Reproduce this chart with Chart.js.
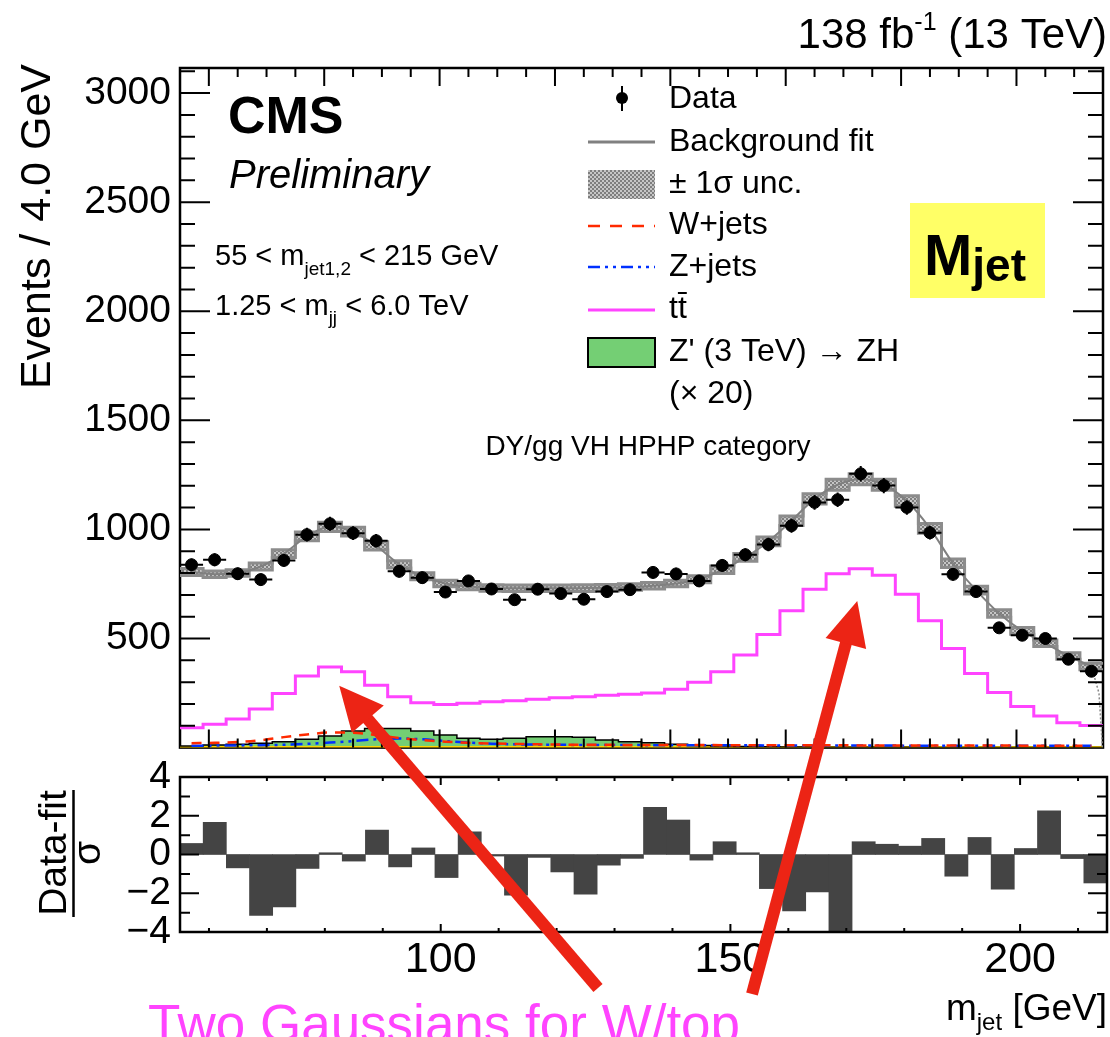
<!DOCTYPE html>
<html>
<head>
<meta charset="utf-8">
<title>m_jet fit – DY/gg VH HPHP</title>
<script src="https://cdn.jsdelivr.net/npm/chart.js@4.4.1/dist/chart.umd.min.js"></script>
<style>
  html, body { margin: 0; padding: 0; background: #fff; overflow: hidden; }
  #page { position: relative; width: 1110px; height: 1037px; }
  canvas { position: absolute; left: 0; }
  #main { top: 0; }
  #pull { top: 740px; }
  #overlay { top: 0; pointer-events: none; }
</style>
</head>
<body>
<div id="page">
  <canvas id="main" width="1110" height="780"></canvas>
  <canvas id="pull" width="1110" height="297"></canvas>
  <canvas id="overlay" width="1110" height="1037"></canvas>
</div>
<script>
// ---------------------------------------------------
// m_jet spectrum with background fit + pull panel
// ---------------------------------------------------

const FONT = "'Liberation Sans', Arial, Helvetica, sans-serif";

// 40 bins of 4 GeV between 55 and 215 GeV
const binLow = 55, binWidth = 4, nBins = 40;
const binEdges   = Array.from({ length: nBins + 1 }, (_, i) => binLow + i * binWidth);
const binCenters = binEdges.slice(0, -1).map(e => e + binWidth / 2);

// Observed events per bin
const dataCounts = [838, 861, 797, 770, 858, 976, 1026, 983, 948, 808,
                    779, 713, 764, 727, 678, 726, 706, 680, 715, 724,
                    803, 796, 764, 835, 884, 931, 1017, 1124, 1136, 1255,
                    1201, 1101, 985, 794, 715, 549, 515, 500, 405, 350];

// Background fit (value at bin centre) and its 1 sigma band
const fitValues = [805, 795, 800, 830, 889, 968, 1012, 990, 925, 840,
                   785, 752, 738, 732, 730, 730, 730, 731, 733, 736,
                   742, 752, 772, 815, 872, 945, 1040, 1140, 1205, 1230,
                   1205, 1130, 1005, 845, 722, 615, 535, 478, 420, 372];
const fitUnc = [16, 15, 15, 16, 18, 20, 21, 20, 19, 17,
                16, 15, 15, 15, 15, 15, 15, 15, 15, 15,
                15, 15, 16, 17, 18, 20, 22, 24, 25, 25,
                25, 24, 22, 20, 18, 17, 16, 15, 15, 15];
// steep drop of the fit function at the upper edge
const fitTailX = [213, 214.3, 214.9];
const fitTailY = [372, 250, 0];

// Background components
const ttbarValues = [91, 107, 131, 177, 248, 328, 370, 348, 286, 233,
                     206, 198, 203, 210, 215, 222, 229, 233, 240, 245,
                     250, 268, 299, 348, 424, 518, 627, 726, 797, 820,
                     790, 703, 581, 454, 340, 252, 188, 145, 114, 101];
const wjetsValues = [20, 22, 26, 34, 48, 60, 69, 68, 58, 44,
                     34, 27, 22, 19, 17, 15, 14, 13, 13, 12,
                     12, 12, 12, 11, 11, 11, 11, 11, 11, 10,
                     10, 10, 10, 10, 10, 10, 9, 9, 9, 9];
const zjetsValues = [8, 9, 10, 11, 13, 17, 23, 30, 38, 42,
                     38, 30, 23, 18, 15, 14, 13, 12, 12, 12,
                     11, 11, 11, 11, 11, 10, 10, 10, 10, 10,
                     10, 9, 9, 9, 9, 9, 8, 8, 8, 8];

// Z' (3 TeV) -> ZH signal, scaled x20
const signalValues = [7, 12, 15, 20, 27, 38, 53, 76, 88, 88,
                      76, 58, 43, 38, 43, 50, 50, 47, 35, 27,
                      22, 15, 10, 7, 5, 4, 3, 3, 2, 2,
                      2, 2, 1, 1, 1, 1, 1, 1, 1, 1];
const baselineX = [55, 215];
const baselineY = [0, 0];

// (Data - fit) / sigma per bin
const pullValues = [0.57, 1.66, -0.69, -3.14, -2.71, -0.72, 0.09, -0.34, 1.26, -0.64,
                    0.34, -1.19, 1.17, -0.08, -2.1, -0.15, -0.9, -2.05, -0.55, -0.2,
                    2.43, 1.78, -0.29, 0.66, 0.09, -1.76, -2.91, -1.93, -4.6, 0.66,
                    0.53, 0.43, 0.83, -1.12, 0.88, -1.79, 0.31, 2.26, -0.21, -1.47];

// Axis ticks
const mainYMajor = [500, 1000, 1500, 2000, 2500, 3000];
const mainXMajor = [60, 80, 100, 120, 140, 160, 180, 200];
const pullYMajor = [-4, -2, 0, 2, 4];
const pullYMinor = [-3, -1, 1, 3];
const pullXLabels = [100, 150, 200];

// Arrow tips in (m_jet, events) of the upper panel, tails in page pixels
const arrowTips  = [[82.6, 284], [172.4, 672]];
const arrowTails = [[598, 988], [752, 994]];

// Builds histogram outline points (flat top per bin).
function stepPoints(values) {
  const pts = [];
  values.forEach((v, i) => {
    pts.push({ x: binEdges[i], y: v }, { x: binEdges[i + 1], y: v });
  });
  return pts;
}

function range(from, to, step) {
  const out = [];
  for (let v = from; v <= to + 1e-9; v += step) out.push(v);
  return out;
}

// Grey speckle fill used for the uncertainty band.
function speckle(ctx) {
  const c = document.createElement('canvas');
  c.width = c.height = 4;
  const p = c.getContext('2d');
  p.fillStyle = '#c6c6c6'; p.fillRect(0, 0, 4, 4);
  p.fillStyle = '#7e7e7e'; p.fillRect(0, 0, 2, 2); p.fillRect(2, 2, 2, 2);
  return ctx.createPattern(c, 'repeat');
}

// Frame and inward pointing ticks (ROOT style).
function frameTicks(cfg) {
  const frame = chart => {
    const { ctx, chartArea: a } = chart;
    ctx.save();
    ctx.strokeStyle = '#000';
    ctx.lineWidth = 2.5;
    ctx.strokeRect(a.left, a.top, a.right - a.left, a.bottom - a.top);
    ctx.restore();
  };
  return {
    id: 'frameTicks',
    beforeDatasetsDraw(chart) { if (cfg.frameFirst) frame(chart); },
    afterDraw(chart) {
      if (!cfg.frameFirst) frame(chart);
      const { ctx, chartArea: a, scales: { x, y } } = chart;
      ctx.save();
      ctx.strokeStyle = '#000';
      ctx.lineWidth = 2;
      ctx.beginPath();
      const xt = (v, len) => {
        const p = x.getPixelForValue(v);
        ctx.moveTo(p, a.top);    ctx.lineTo(p, a.top + len);
        ctx.moveTo(p, a.bottom); ctx.lineTo(p, a.bottom - len);
      };
      const yt = (v, len) => {
        const p = y.getPixelForValue(v);
        ctx.moveTo(a.left, p);  ctx.lineTo(a.left + len, p);
        ctx.moveTo(a.right, p); ctx.lineTo(a.right - len, p);
      };
      cfg.xMinor.forEach(v => xt(v, cfg.xMinorLen));
      cfg.xMajor.forEach(v => xt(v, cfg.xMajorLen));
      cfg.yMinor.forEach(v => yt(v, cfg.yMinorLen));
      cfg.yMajor.forEach(v => yt(v, cfg.yMajorLen));
      ctx.stroke();
      ctx.restore();
    }
  };
}

// Horizontal (bin width) and vertical (sqrt N) error bars on data.
const errorBars = {
  id: 'errorBars',
  afterDatasetsDraw(chart) {
    const { ctx, scales: { x, y } } = chart;
    ctx.save();
    ctx.strokeStyle = '#000';
    ctx.lineWidth = 2;
    ctx.beginPath();
    dataCounts.forEach((n, i) => {
      const py = y.getPixelForValue(n);
      const pc = x.getPixelForValue(binCenters[i]);
      ctx.moveTo(x.getPixelForValue(binEdges[i]), py);
      ctx.lineTo(x.getPixelForValue(binEdges[i + 1]), py);
      ctx.moveTo(pc, y.getPixelForValue(n - Math.sqrt(n)));
      ctx.lineTo(pc, y.getPixelForValue(n + Math.sqrt(n)));
    });
    ctx.stroke();
    ctx.restore();
  }
};

Chart.defaults.color = '#000';
Chart.defaults.font.family = FONT;

const mainCtx = document.getElementById('main').getContext('2d');
const bandFill = speckle(mainCtx);

const mainChart = new Chart(mainCtx, {
  type: 'line',
  data: {
    datasets: [
      {
        label: 'Data',
        data: binCenters.map((x, i) => ({ x, y: dataCounts[i] })),
        showLine: false,
        pointRadius: 6,
        pointBackgroundColor: '#000',
        pointBorderColor: '#000',
        borderColor: '#000'
      },
      {
        label: 'fit tail',
        data: fitTailX.map((x, i) => ({ x, y: fitTailY[i] })),
        borderColor: '#8a8a8a',
        borderWidth: 1.5,
        borderDash: [2, 2]
      },
      {
        label: 'Background fit',
        data: binCenters.map((x, i) => ({ x, y: fitValues[i] })),
        borderColor: '#808080',
        borderWidth: 2,
        cubicInterpolationMode: 'monotone'
      },
      {
        label: 'unc up',
        data: stepPoints(fitValues.map((v, i) => v + fitUnc[i])),
        borderColor: '#8c8c8c',
        borderWidth: 3,
        backgroundColor: bandFill,
        fill: '+1'
      },
      {
        label: 'unc down',
        data: stepPoints(fitValues.map((v, i) => v - fitUnc[i])),
        borderColor: '#8c8c8c',
        borderWidth: 3
      },
      {
        label: 'W+jets',
        data: binCenters.map((x, i) => ({ x, y: wjetsValues[i] })),
        borderColor: '#ff2a00',
        borderWidth: 2.5,
        borderDash: [10, 8],
        cubicInterpolationMode: 'monotone'
      },
      {
        label: 'Z+jets',
        data: binCenters.map((x, i) => ({ x, y: zjetsValues[i] })),
        borderColor: '#0030ff',
        borderWidth: 2.5,
        borderDash: [12, 5, 3, 5, 3, 5],
        cubicInterpolationMode: 'monotone'
      },
      {
        label: 'ttbar',
        data: stepPoints(ttbarValues),
        borderColor: '#ff44ff',
        borderWidth: 3
      },
      {
        label: 'signal',
        data: stepPoints(signalValues),
        borderColor: '#000',
        borderWidth: 1.5,
        backgroundColor: '#74cf74',
        fill: 'origin'
      },
      {
        label: 'baseline',
        data: baselineX.map((x, i) => ({ x, y: baselineY[i] })),
        borderColor: '#ffd400',
        borderWidth: 3
      }
    ]
  },
  options: {
    responsive: false,
    animation: false,
    events: [],
    layout: { padding: { left: 10, right: 3, top: 68, bottom: 31 } },
    elements: { point: { radius: 0 }, line: { tension: 0 } },
    plugins: {
      legend: { display: false },
      tooltip: { enabled: false },
      filler: { drawTime: 'beforeDatasetsDraw' }
    },
    scales: {
      x: { type: 'linear', min: 55, max: 215, display: false },
      y: {
        type: 'linear', min: 0, max: 3115,
        afterBuildTicks(s) { s.ticks = mainYMajor.map(v => ({ value: v })); },
        afterFit(s) { s.width = 170; },
        grid: { display: false, drawTicks: false },
        border: { display: false },
        ticks: {
          autoSkip: false, padding: 9,
          font: { size: 39 },
          callback: v => String(v)
        }
      }
    }
  },
  plugins: [
    frameTicks({
      frameFirst: true,
      xMajor: mainXMajor, xMinor: range(60, 210, 5), xMajorLen: 18, xMinorLen: 9,
      yMajor: mainYMajor, yMinor: range(100, 3100, 100), yMajorLen: 30, yMinorLen: 15
    }),
    errorBars
  ]
});

const pullChart = new Chart(document.getElementById('pull'), {
  type: 'bar',
  data: {
    datasets: [{
      label: 'pull',
      data: binCenters.map((x, i) => ({ x, y: pullValues[i] })),
      backgroundColor: '#444444',
      borderWidth: 0,
      categoryPercentage: 1,
      barPercentage: 1,
      clip: 0
    }]
  },
  options: {
    responsive: false,
    animation: false,
    events: [],
    layout: { padding: { left: 10, right: 3, top: 37, bottom: 45 } },
    plugins: { legend: { display: false }, tooltip: { enabled: false } },
    scales: {
      x: {
        type: 'linear', min: 55, max: 215, offset: false,
        afterBuildTicks(s) { s.ticks = pullXLabels.map(v => ({ value: v })); },
        afterFit(s) { s.height = 60; },
        grid: { display: false, drawTicks: false },
        border: { display: false },
        ticks: { autoSkip: false, maxRotation: 0, padding: 2, font: { size: 43 }, callback: v => String(v) }
      },
      y: {
        type: 'linear', min: -4, max: 4,
        afterBuildTicks(s) { s.ticks = pullYMajor.map(v => ({ value: v })); },
        afterFit(s) { s.width = 170; },
        grid: { display: false, drawTicks: false },
        border: { display: false },
        ticks: {
          autoSkip: false, padding: 9,
          font: { size: 39 },
          callback: v => (v < 0 ? '\u2212' + (-v) : String(v))
        }
      }
    }
  },
  plugins: [
    frameTicks({
      frameFirst: false,
      xMajor: pullXLabels, xMinor: range(60, 210, 10), xMajorLen: 8, xMinorLen: 4,
      yMajor: pullYMajor, yMinor: pullYMinor, yMajorLen: 19, yMinorLen: 10
    })
  ]
});

// ---------------------------------------------------
// Labels, legend and annotation arrows on top
// ---------------------------------------------------
const ov = document.getElementById('overlay').getContext('2d');

function text(s, x, y, font, align = 'left', color = '#000') {
  ov.font = font;
  ov.fillStyle = color;
  ov.textAlign = align;
  ov.textBaseline = 'alphabetic';
  ov.fillText(s, x, y);
  ov.textAlign = 'left';
  return ov.measureText(s).width;
}

function rotText(s, x, y, font, align) {
  ov.save();
  ov.translate(x, y);
  ov.rotate(-Math.PI / 2);
  ov.font = font;
  ov.fillStyle = '#000';
  ov.textAlign = align;
  ov.fillText(s, 0, 0);
  ov.restore();
}

function width(s, font) { ov.font = font; return ov.measureText(s).width; }

// luminosity / energy, right aligned on the frame
{
  const big = `42px ${FONT}`, sup = `25px ${FONT}`;
  const total = width('138 fb', big) + width('-1', sup) + width(' (13 TeV)', big);
  let x = 1107 - total;
  x += text('138 fb', x, 48, big);
  x += text('-1', x, 30, sup);
  text(' (13 TeV)', x, 48, big);
}

text('CMS', 228, 133, `bold 52px ${FONT}`);
text('Preliminary', 229, 188, `italic 40px ${FONT}`);

{
  const f = `29px ${FONT}`, s = `19px ${FONT}`;
  let x = 215;
  x += text('55 < m', x, 265, f);
  x += text('jet1,2', x, 275, s);
  text(' < 215 GeV', x, 265, f);
  x = 215;
  x += text('1.25 < m', x, 315, f);
  x += text('jj', x, 324, s);
  text(' < 6.0 TeV', x, 315, f);
}

text('DY/gg VH HPHP category', 648, 455, `28px ${FONT}`, 'center');

// M_jet tag
ov.fillStyle = '#ffff66';
ov.fillRect(910, 203, 135, 95);
{
  const x = 924 + text('M', 924, 275, `bold 58px ${FONT}`);
  text('jet', x, 281, `bold 46px ${FONT}`);
}

// legend
{
  const lf = `32px ${FONT}`, tx = 669, x0 = 588, x1 = 655;
  const rows = [108, 151, 193, 234, 276, 318, 361, 403];

  ov.fillStyle = '#000';
  ov.beginPath(); ov.arc(622, 98, 6, 0, 2 * Math.PI); ov.fill();
  ov.strokeStyle = '#000'; ov.lineWidth = 2;
  ov.beginPath(); ov.moveTo(622, 86); ov.lineTo(622, 111); ov.stroke();
  text('Data', tx, rows[0], lf);

  ov.strokeStyle = '#808080'; ov.lineWidth = 3;
  ov.beginPath(); ov.moveTo(x0, 142); ov.lineTo(x1, 142); ov.stroke();
  text('Background fit', tx, rows[1], lf);

  ov.fillStyle = speckle(ov);
  ov.fillRect(x0, 170, x1 - x0, 29);
  text('\u00b1 1\u03c3 unc.', tx, rows[2], lf);

  ov.lineWidth = 2.5;
  ov.strokeStyle = '#ff2a00'; ov.setLineDash([12, 10]);
  ov.beginPath(); ov.moveTo(x0, 226); ov.lineTo(x1, 226); ov.stroke();
  text('W+jets', tx, rows[3], lf);

  ov.strokeStyle = '#0030ff'; ov.setLineDash([12, 5, 3, 5, 3, 5]);
  ov.beginPath(); ov.moveTo(x0, 267); ov.lineTo(x1, 267); ov.stroke();
  ov.setLineDash([]);
  text('Z+jets', tx, rows[4], lf);

  ov.strokeStyle = '#ff44ff'; ov.lineWidth = 3;
  ov.beginPath(); ov.moveTo(x0, 310); ov.lineTo(x1, 310); ov.stroke();
  const tw = text('t', tx, rows[5], lf);
  text('t', tx + tw, rows[5], lf);
  ov.strokeStyle = '#000'; ov.lineWidth = 2;
  ov.beginPath(); ov.moveTo(tx + tw, 293); ov.lineTo(tx + 2 * tw, 293); ov.stroke();

  ov.fillStyle = '#74cf74';
  ov.fillRect(x0, 338, x1 - x0, 29);
  ov.strokeStyle = '#000'; ov.lineWidth = 2;
  ov.strokeRect(x0, 338, x1 - x0, 29);
  text("Z' (3 TeV) \u2192 ZH", tx, rows[6], lf);
  text('(\u00d7 20)', tx, rows[7], lf);
}

// axis titles
rotText('Events / 4.0 GeV', 50, 64, `43px ${FONT}`, 'right');
rotText('Data-fit', 66, 853, `39px ${FONT}`, 'center');
rotText('\u03c3', 100, 853, `39px ${FONT}`, 'center');
ov.strokeStyle = '#000'; ov.lineWidth = 2.5;
ov.beginPath(); ov.moveTo(73.5, 790); ov.lineTo(73.5, 917); ov.stroke();

{
  const f = `37px ${FONT}`, s = `24px ${FONT}`;
  const total = width('m', f) + width('jet', s) + width(' [GeV]', f);
  let x = 1107 - total;
  x += text('m', x, 1020, f);
  x += text('jet', x, 1030, s);
  text(' [GeV]', x, 1020, f);
}

// red arrows pointing at the two peaks
function arrow(x0, y0, x1, y1) {
  const a = Math.atan2(y1 - y0, x1 - x0);
  const headLen = 44, headHalf = 21;
  const bx = x1 - headLen * Math.cos(a), by = y1 - headLen * Math.sin(a);
  ov.strokeStyle = ov.fillStyle = '#ec2415';
  ov.lineWidth = 12;
  ov.lineCap = 'butt';
  ov.beginPath();
  ov.moveTo(x0, y0);
  ov.lineTo(bx + 2 * Math.cos(a), by + 2 * Math.sin(a));
  ov.stroke();
  ov.beginPath();
  ov.moveTo(x1, y1);
  ov.lineTo(bx + headHalf * Math.sin(a), by - headHalf * Math.cos(a));
  ov.lineTo(bx - headHalf * Math.sin(a), by + headHalf * Math.cos(a));
  ov.closePath();
  ov.fill();
}

arrowTips.forEach(([mx, ev], i) => {
  const tipX = mainChart.scales.x.getPixelForValue(mx);
  const tipY = mainChart.scales.y.getPixelForValue(ev);
  arrow(arrowTails[i][0], arrowTails[i][1], tipX, tipY);
});

text('Two Gaussians for W/top', 148, 1042, `53px ${FONT}`, 'left', '#ff44ff');
</script>
</body>
</html>
